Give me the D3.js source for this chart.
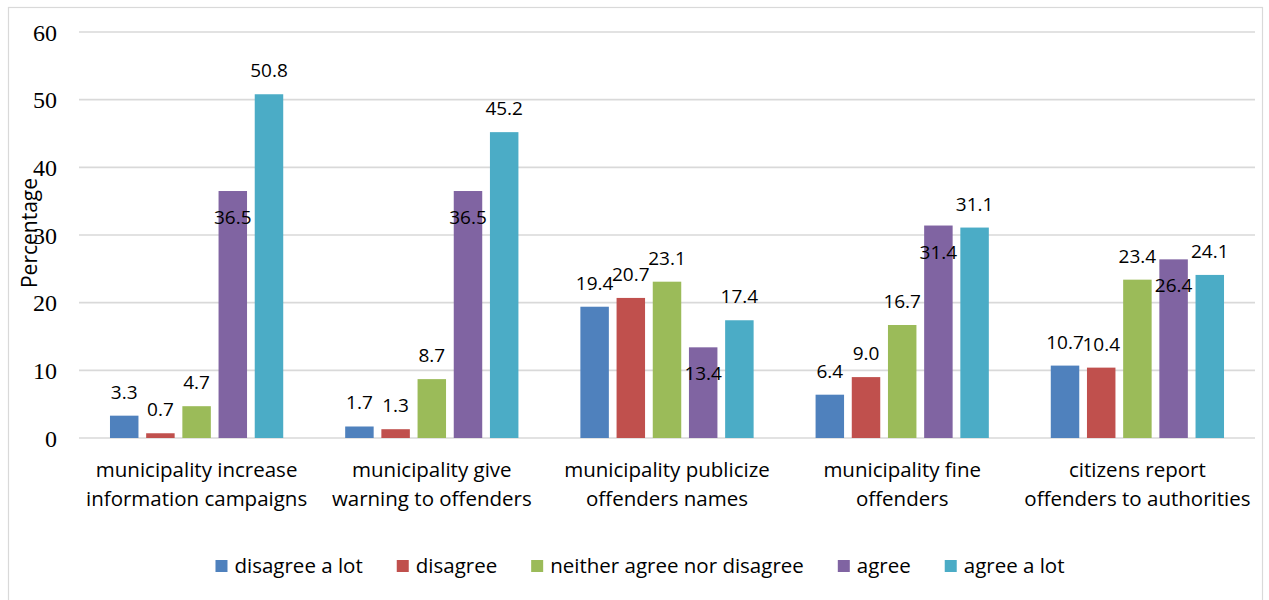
<!DOCTYPE html>
<html>
<head>
<meta charset="utf-8">
<script src="https://cdn.jsdelivr.net/npm/d3@7"></script>
<style>
  html, body { margin: 0; padding: 0; background: #ffffff; }
  svg { display: block; }
</style>
</head>
<body>
<svg id="chart" width="1269" height="600"></svg>
<script>
// Survey response categories (x-axis groups)
const categories = [
  ["municipality increase", "information campaigns"],
  ["municipality give", "warning to offenders"],
  ["municipality publicize", "offenders names"],
  ["municipality fine", "offenders"],
  ["citizens report", "offenders to authorities"]
];

// Response levels (legend order)
const seriesNames = ["disagree a lot", "disagree", "neither agree nor disagree", "agree", "agree a lot"];
const seriesColors = ["#4F81BD", "#C0504D", "#9BBB59", "#8064A2", "#4BACC6"];

// Percentages per response level, one value per category
const disagreeALot = [3.3, 1.7, 19.4, 6.4, 10.7];
const disagree     = [0.7, 1.3, 20.7, 9.0, 10.4];
const neither      = [4.7, 8.7, 23.1, 16.7, 23.4];
const agree        = [36.5, 36.5, 13.4, 31.4, 26.4];
const agreeALot    = [50.8, 45.2, 17.4, 31.1, 24.1];

const yTicks = [0, 10, 20, 30, 40, 50, 60];

const seriesValues = [disagreeALot, disagree, neither, agree, agreeALot];

const svg = d3.select("#chart");
const plot = { left: 79, right: 1255, top: 32, bottom: 438 };

// outer chart border
svg.append("rect")
  .attr("x", 8.5).attr("y", 7.5)
  .attr("width", 1254).attr("height", 600)
  .attr("fill", "#fff").attr("stroke", "#d9d9d9").attr("stroke-width", 1.2);

const catKeys = categories.map((c, i) => i);
const x0 = d3.scaleBand().domain(catKeys).range([plot.left, plot.right]).paddingInner(0).paddingOuter(0);
const x1 = d3.scaleBand().domain(seriesNames).range([0, x0.bandwidth()]).paddingInner(0.213).paddingOuter(0.856);
const y = d3.scaleLinear().domain([0, 60]).range([plot.bottom, plot.top]);

// horizontal gridlines
svg.append("g")
  .selectAll("line")
  .data(yTicks)
  .join("line")
  .attr("x1", plot.left).attr("x2", plot.right)
  .attr("y1", d => y(d)).attr("y2", d => y(d))
  .attr("stroke", "#d9d9d9").attr("stroke-width", 1.6);

// y-axis tick labels
const yAxis = d3.axisLeft(y).tickValues(yTicks).tickSize(0).tickPadding(0).tickFormat(d3.format("d"));
const yg = svg.append("g").attr("transform", `translate(57,0)`).call(yAxis);
yg.select(".domain").remove();
yg.selectAll("text")
  .attr("font-family", "'Liberation Serif', 'Times New Roman', serif")
  .attr("font-size", 24)
  .attr("fill", "#000")
  .attr("dy", "0.34em");

// bars
const rows = [];
seriesValues.forEach((vals, s) => {
  vals.forEach((v, c) => rows.push({ s, c, v }));
});

svg.append("g")
  .selectAll("rect")
  .data(rows)
  .join("rect")
  .attr("x", d => x0(d.c) + x1(seriesNames[d.s]))
  .attr("y", d => y(d.v))
  .attr("width", x1.bandwidth())
  .attr("height", d => y(0) - y(d.v))
  .attr("fill", d => seriesColors[d.s]);

// value labels: "agree" labels sit inside the bar top, others above
svg.append("g")
  .selectAll("text")
  .data(rows)
  .join("text")
  .attr("x", d => x0(d.c) + x1(seriesNames[d.s]) + x1.bandwidth() / 2)
  .attr("y", d => d.s === 3 ? y(d.v) + 33 : y(d.v) - 17)
  .attr("text-anchor", "middle")
  .attr("font-family", "'Open Sans', sans-serif")
  .attr("font-size", 19)
  .attr("fill", "#000")
  .text(d => d3.format(".1f")(d.v));

// category labels
const catG = svg.append("g");
categories.forEach((lines, i) => {
  const cx = x0(i) + x0.bandwidth() / 2;
  const t = catG.append("text")
    .attr("x", cx)
    .attr("y", 477)
    .attr("text-anchor", "middle")
    .attr("font-family", "'Open Sans', sans-serif")
    .attr("font-size", 20.5)
    .attr("fill", "#000");
  lines.forEach((ln, j) => {
    t.append("tspan").attr("x", cx).attr("dy", j === 0 ? 0 : 29).text(ln);
  });
});

// y-axis title
svg.append("text")
  .attr("transform", "translate(37,233) rotate(-90)")
  .attr("text-anchor", "middle")
  .attr("font-family", "'Open Sans', sans-serif")
  .attr("font-size", 21)
  .attr("fill", "#000")
  .text("Percentage");

// legend
const legend = svg.append("g");
const items = seriesNames.map((name, i) => {
  const g = legend.append("g");
  g.append("rect").attr("x", 0).attr("y", -6).attr("width", 12).attr("height", 12).attr("fill", seriesColors[i]);
  const t = g.append("text")
    .attr("x", 19).attr("y", 0).attr("dy", "0.35em")
    .attr("font-family", "'Open Sans', sans-serif")
    .attr("font-size", 20.5)
    .attr("fill", "#000")
    .text(name);
  return { g, w: 19 + t.node().getComputedTextLength() };
});
const gap = 34;
const total = d3.sum(items, d => d.w) + gap * (items.length - 1);
let lx = 640 - total / 2;
items.forEach(it => {
  it.g.attr("transform", `translate(${lx},566)`);
  lx += it.w + gap;
});
</script>
</body>
</html>
